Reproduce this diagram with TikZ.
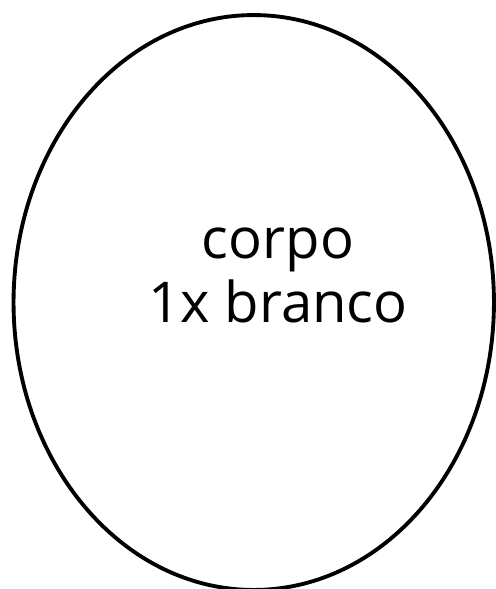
\documentclass[tikz,border=0pt]{standalone}
\usepackage{fontspec}
\setmainfont{Open Sans}
\usetikzlibrary{shapes.geometric}
\begin{document}
\begin{tikzpicture}[x=0.02cm, y=-0.02cm,
   body/.style={draw, line width=2.2pt, ellipse, minimum width=9.61cm, minimum height=11.5cm, inner sep=0pt},
   lbl/.style={align=center, font=\fontsize{32}{36}\selectfont}]
  \useasboundingbox (0,0) rectangle (496,589);
  % ellipse body
  \node[body] (corpo) at (253.75,302.5) {};
  \node[lbl] (txt) at (278,275.5) {corpo\\1x branco};
\end{tikzpicture}
\end{document}
